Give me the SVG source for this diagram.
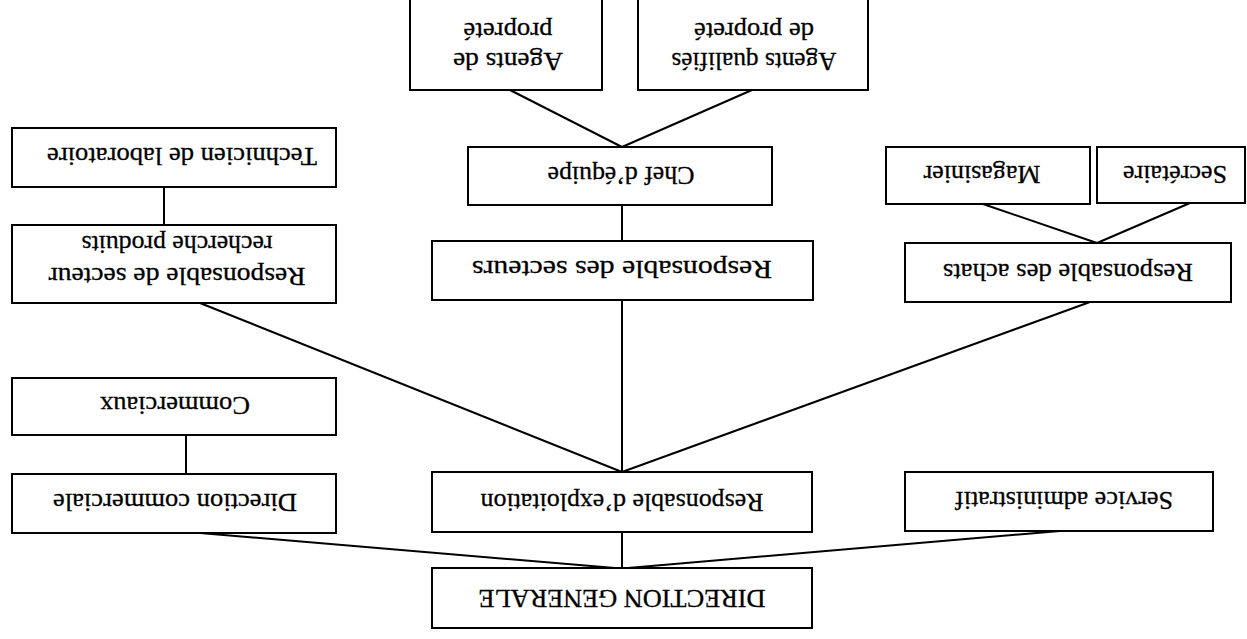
<svg xmlns="http://www.w3.org/2000/svg" width="1247" height="639" viewBox="0 0 1247 639">
<style>
.box{fill:#fff;stroke:#000;stroke-width:2}
.ln{stroke:#000;stroke-width:2;fill:none}
text{font-family:"Liberation Serif","Times New Roman",serif;font-size:26px;fill:#000;stroke:#000;stroke-width:0.3;text-anchor:middle}
</style>
<rect width="1247" height="639" fill="#fff"/>
<g id="connectors">
<line class="ln" x1="622" y1="532" x2="622" y2="568"/>
<line class="ln" x1="200" y1="533" x2="615" y2="568"/>
<line class="ln" x1="1060" y1="531" x2="628" y2="568"/>
<line class="ln" x1="200" y1="303" x2="622" y2="472"/>
<line class="ln" x1="622" y1="300" x2="622" y2="472"/>
<line class="ln" x1="1090" y1="302" x2="622" y2="472"/>
<line class="ln" x1="186" y1="435" x2="186" y2="474"/>
<line class="ln" x1="164" y1="187" x2="164" y2="225"/>
<line class="ln" x1="622" y1="205" x2="622" y2="241"/>
<line class="ln" x1="510" y1="90" x2="622" y2="147"/>
<line class="ln" x1="752" y1="90" x2="622" y2="147"/>
<line class="ln" x1="983" y1="204" x2="1097" y2="243"/>
<line class="ln" x1="1190" y1="203" x2="1097" y2="243"/>
</g>
<g id="direction-generale"><rect class="box" x="432" y="568" width="380" height="60"/><text transform="rotate(180 622 599)" x="622" y="608" textLength="287" lengthAdjust="spacingAndGlyphs">DIRECTION GENERALE</text></g>
<g id="responsable-exploitation"><rect class="box" x="432" y="472" width="380" height="60"/><text transform="rotate(180 622 503)" x="622" y="512" textLength="283" lengthAdjust="spacingAndGlyphs">Responsable d’exploitation</text></g>
<g id="service-administratif"><rect class="box" x="905" y="472" width="308" height="59"/><text transform="rotate(180 1064 501)" x="1064" y="510" textLength="218" lengthAdjust="spacingAndGlyphs">Service administratif</text></g>
<g id="direction-commerciale"><rect class="box" x="12" y="474" width="324" height="59"/><text transform="rotate(180 175 503)" x="175" y="512" textLength="244" lengthAdjust="spacingAndGlyphs">Direction commerciale</text></g>
<g id="commerciaux"><rect class="box" x="12" y="378" width="324" height="57"/><text transform="rotate(180 175 406)" x="175" y="415" textLength="150" lengthAdjust="spacingAndGlyphs">Commerciaux</text></g>
<g id="responsable-secteur"><rect class="box" x="12" y="225" width="324" height="78"/><text transform="rotate(180 177 261)" x="177" y="254" textLength="257" lengthAdjust="spacingAndGlyphs">Responsable de secteur</text><text transform="rotate(180 177 261)" x="177" y="286" textLength="191" lengthAdjust="spacingAndGlyphs">recherche produits</text></g>
<g id="technicien"><rect class="box" x="12" y="128" width="324" height="59"/><text transform="rotate(180 182 157)" x="182" y="166" textLength="270" lengthAdjust="spacingAndGlyphs">Technicien de laboratoire</text></g>
<g id="responsable-secteurs"><rect class="box" x="432" y="241" width="381" height="59"/><text transform="rotate(180 622 270)" x="622" y="279" textLength="300" lengthAdjust="spacingAndGlyphs">Responsable des secteurs</text></g>
<g id="chef-equipe"><rect class="box" x="468" y="147" width="304" height="58"/><text transform="rotate(180 621 176)" x="621" y="185" textLength="147" lengthAdjust="spacingAndGlyphs">Chef d’équipe</text></g>
<g id="agents-proprete"><rect class="box" x="410" y="-5" width="192" height="95"/><text transform="rotate(180 508 46)" x="508" y="39" textLength="110" lengthAdjust="spacingAndGlyphs">Agents de</text><text transform="rotate(180 508 46)" x="508" y="69" textLength="89" lengthAdjust="spacingAndGlyphs">propreté</text></g>
<g id="agents-qualifies"><rect class="box" x="638" y="-5" width="230" height="95"/><text transform="rotate(180 754 46)" x="754" y="39" textLength="165" lengthAdjust="spacingAndGlyphs">Agents qualifiés</text><text transform="rotate(180 754 46)" x="754" y="69" textLength="120" lengthAdjust="spacingAndGlyphs">de propreté</text></g>
<g id="responsable-achats"><rect class="box" x="905" y="243" width="326" height="59"/><text transform="rotate(180 1068 273)" x="1068" y="282" textLength="250" lengthAdjust="spacingAndGlyphs">Responsable des achats</text></g>
<g id="magasinier"><rect class="box" x="886" y="147" width="204" height="57"/><text transform="rotate(180 982 175)" x="982" y="184" textLength="117" lengthAdjust="spacingAndGlyphs">Magasinier</text></g>
<g id="secretaire"><rect class="box" x="1097" y="147" width="148" height="56"/><text transform="rotate(180 1175 175)" x="1175" y="184" textLength="104" lengthAdjust="spacingAndGlyphs">Secrétaire</text></g>
</svg>
